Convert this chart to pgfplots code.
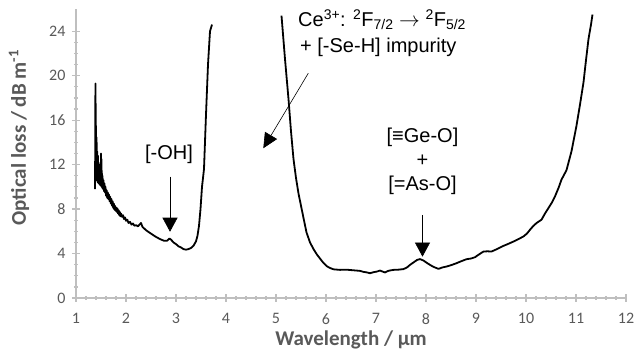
\documentclass[border=0pt]{standalone}
\usepackage{pgfplots}
\pgfplotsset{compat=1.18}
\usetikzlibrary{arrows.meta}
\usepackage{fontspec}
\setmainfont{Carlito}
\newfontfamily\arial{Liberation Sans}
\definecolor{axgray}{HTML}{BFBFBF}
\definecolor{txtgray}{HTML}{595959}

\pgfplotstableread{
x y
1.380 9.8
1.381 12.3
1.383 10.5
1.386 16.0
1.389 19.3
1.392 13.0
1.395 17.5
1.398 11.2
1.401 15.5
1.404 12.0
1.407 14.5
1.410 10.6
1.414 14.0
1.418 11.2
1.422 13.2
1.426 10.8
1.430 12.6
1.435 10.4
1.440 12.8
1.445 10.6
1.450 12.2
1.455 10.3
1.460 11.8
1.465 10.5
1.470 12.0
1.475 10.2
1.480 11.5
1.485 10.6
1.490 11.6
1.495 10.1
1.500 13.0
1.505 10.4
1.510 12.5
1.515 10.0
1.520 11.2
1.525 9.9
1.530 11.0
1.540 9.8
1.550 10.6
1.560 9.6
1.570 10.3
1.580 9.5
1.590 10.0
1.600 9.2
1.612 9.7
1.624 9.0
1.636 9.5
1.648 8.9
1.660 9.3
1.672 8.7
1.684 9.1
1.696 8.5
1.708 8.9
1.720 8.3
1.732 8.7
1.744 8.1
1.756 8.5
1.768 7.95
1.780 8.3
1.792 7.85
1.804 8.15
1.816 7.75
1.828 8.05
1.840 7.6
1.852 7.9
1.864 7.45
1.876 7.75
1.888 7.35
1.900 7.6
1.920 7.3
1.940 7.45
1.960 7.1
1.980 7.25
2.000 6.95
2.025 7.05
2.050 6.75
2.080 6.85
2.110 6.6
2.140 6.7
2.170 6.5
2.200 6.55
2.240 6.45
2.270 6.6
2.300 6.75
2.330 6.4
2.400 6.1
2.480 5.85
2.580 5.55
2.680 5.3
2.760 5.15
2.820 5.15
2.870 5.35
2.900 5.25
2.950 5.0
3.000 4.85
3.050 4.65
3.100 4.55
3.150 4.4
3.200 4.35
3.250 4.4
3.300 4.5
3.350 4.7
3.400 5.1
3.430 5.6
3.460 6.5
3.490 8.0
3.520 10.0
3.560 11.6
3.600 16.5
3.640 21.0
3.680 24.0
3.720 24.6
}\lossA

\pgfplotstableread{
x y
5.11 25.4
5.18 21.5
5.25 17.9
5.30 15.0
5.35 12.5
5.40 10.8
5.45 9.4
5.50 8.3
5.55 7.2
5.61 5.9
5.68 5.0
5.75 4.4
5.82 3.9
5.88 3.55
5.95 3.15
6.02 2.85
6.08 2.7
6.15 2.58
6.28 2.53
6.40 2.55
6.48 2.52
6.58 2.48
6.68 2.44
6.75 2.35
6.82 2.3
6.88 2.23
6.95 2.32
7.02 2.38
7.08 2.47
7.13 2.38
7.18 2.3
7.25 2.45
7.35 2.53
7.45 2.55
7.55 2.6
7.62 2.75
7.68 2.98
7.75 3.2
7.82 3.42
7.88 3.5
7.95 3.37
8.02 3.15
8.08 2.98
8.15 2.8
8.25 2.62
8.33 2.75
8.41 2.83
8.50 2.95
8.61 3.13
8.70 3.3
8.81 3.49
8.90 3.55
8.98 3.67
9.07 3.95
9.15 4.18
9.23 4.2
9.31 4.18
9.42 4.4
9.55 4.69
9.65 4.88
9.75 5.08
9.85 5.3
9.95 5.54
10.02 5.8
10.08 6.14
10.15 6.5
10.21 6.74
10.31 7.04
10.38 7.6
10.45 8.1
10.52 8.6
10.58 9.14
10.65 9.9
10.71 10.65
10.81 11.5
10.91 13.2
11.01 15.5
11.08 17.4
11.15 19.4
11.20 21.4
11.25 23.3
11.30 24.6
11.33 25.5
}\lossB

\begin{document}
\begin{tikzpicture}
\path[use as bounding box] (-76pt,-60pt) rectangle (559pt,298pt);
\begin{axis}[
  scale only axis, width=550pt, height=289pt,
  at={(0pt,0pt)}, anchor=south west,
  xmin=1, xmax=12, ymin=0, ymax=26,
  axis lines=left,
  axis line style={draw=axgray, line width=2pt, -},
  xtick={1,...,12}, ytick={0,4,...,24},
  minor x tick num=4, minor y tick num=3,
  tick style={draw=axgray, line width=1.3pt},
  tick align=center,
  major tick length=8pt, minor tick length=4pt,
  /pgf/number format/assume math mode=true,
  ticklabel style={font=\fontsize{16}{18}\selectfont, text=txtgray},
  xticklabel style={yshift=-8pt},
  yticklabel style={xshift=-3pt},
  xlabel={Wavelength / µm},
  ylabel={Optical loss / dB m\textsuperscript{-1}},
  label style={font=\fontsize{21}{24}\selectfont\bfseries, text=txtgray},
  xlabel style={at={(axis description cs:0.5,-0.145)}, anchor=center},
  ylabel style={at={(axis description cs:-0.1036,0.555)}, anchor=center},
  clip=false,
]
\addplot[black, line width=1.8pt, line join=round] table[x=x,y=y] {\lossA};
\addplot[black, line width=1.8pt, line join=round] table[x=x,y=y] {\lossB};

\begin{scope}[font=\arial\fontsize{20}{24}\selectfont]
\node[anchor=base] at (axis cs:2.86,12.48) {[-OH]};
\node[anchor=base west, inner sep=0pt] at (axis cs:5.44,24.41)
  {Ce\textsuperscript{3+}: \textsuperscript{2}F\textsubscript{7/2} $\rightarrow$ \textsuperscript{2}F\textsubscript{5/2}};
\node[anchor=base west, inner sep=0pt] at (axis cs:5.48,22.07) {+ [-Se-H] impurity};
\node[anchor=base] at (axis cs:7.93,13.97) {[≡Ge-O]};
\node[anchor=base] at (axis cs:7.93,11.83) {+};
\node[anchor=base] at (axis cs:7.93,9.63) {[=As-O]};
\end{scope}

\draw[black, line width=0.6pt, -{Triangle[width=15pt,length=14pt]}] (axis cs:2.88,10.91) -- (axis cs:2.88,5.96);
\draw[black, line width=0.6pt, -{Triangle[width=14pt,length=15pt]}] (axis cs:5.646,20.22) -- (axis cs:4.746,13.47);
\draw[black, line width=0.6pt, -{Triangle[width=15pt,length=14pt]}] (axis cs:7.93,7.47) -- (axis cs:7.93,3.72);
\end{axis}
\end{tikzpicture}
\end{document}
